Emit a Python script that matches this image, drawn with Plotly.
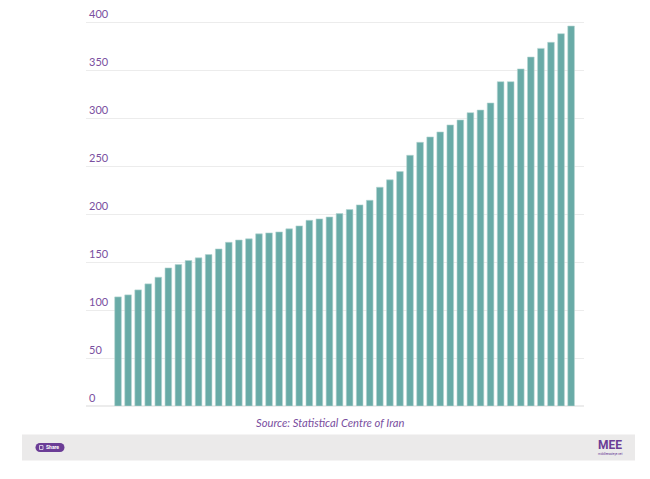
import plotly.graph_objects as go

# values, left to right
values = [113.7, 115.8, 121, 127.3, 134.2, 143.9, 147.4, 151.6, 154.4, 157.8,
          163.7, 170.6, 173, 174.2, 179.4, 180.4, 181.4, 184.6, 187.7, 193.5,
          195, 197, 200.5, 204.7, 209.6, 214.4, 228, 235.7, 244.3, 261.3,
          274.8, 280.4, 285.6, 292.9, 298.1, 305.7, 308.4, 315.8, 338, 338,
          351.3, 363.7, 372.7, 379, 388, 396]
positions = list(range(len(values)))
y_ticks = [0, 50, 100, 150, 200, 250, 300, 350, 400]
source_text = "Source: Statistical Centre of Iran"

PURPLE = "#7a4fa0"
DARK_PURPLE = "#6b3d96"
FONT = "Lato"
W, H = 650, 479
L, R, T, B = 86, 584, 3.3, 406.5


# picture pixels -> paper fractions, for the footer furniture
def px(x):
    return (x - L) / (R - L)


def py(y):
    return (B - y) / (B - T)


def note(text, x, y, family, size, color):
    fig.add_annotation(text=text, xref="paper", yref="paper", x=px(x), y=py(y),
                       xanchor="center", yanchor="middle", showarrow=False,
                       font=dict(family=family, size=size, color=color))


fig = go.Figure(go.Bar(
    x=positions,
    y=values,
    width=0.66,
    marker=dict(color="#69aba7", line=dict(color="#b5d5d2", width=0.6)),
))

# grey footer band and the share pill
fig.add_shape(type="rect", xref="paper", yref="paper", layer="below",
              x0=px(22), x1=px(635), y0=py(435), y1=py(461),
              fillcolor="#ebeaea", line_width=0)
fig.add_shape(type="rect", xref="paper", yref="paper",
              x0=px(40), x1=px(60), y0=py(443.5), y1=py(452.5),
              fillcolor=DARK_PURPLE, line_width=0)
fig.add_shape(type="circle", xref="paper", yref="paper",
              x0=px(35.5), x1=px(44.5), y0=py(443.5), y1=py(452.5),
              fillcolor=DARK_PURPLE, line_width=0)
fig.add_shape(type="circle", xref="paper", yref="paper",
              x0=px(55.5), x1=px(64.5), y0=py(443.5), y1=py(452.5),
              fillcolor=DARK_PURPLE, line_width=0)
fig.add_shape(type="rect", xref="paper", yref="paper",
              x0=px(39.5), x1=px(43), y0=py(446), y1=py(450),
              fillcolor="rgba(0,0,0,0)", line=dict(color="white", width=0.7))

note("<i>" + source_text + "</i>", 329.5, 423, FONT, 11.2, PURPLE)
note("<b>Share</b>", 52, 448, "Roboto", 5, "white")
note("<b>MEE</b>", 610, 446, "Roboto", 12, DARK_PURPLE)
note("middleeasteye.net", 610, 454.5, "Roboto", 3, DARK_PURPLE)

fig.update_layout(
    width=W,
    height=H,
    margin=dict(l=L, r=W - R, t=T, b=H - B, pad=0),
    paper_bgcolor="white",
    plot_bgcolor="white",
    showlegend=False,
    xaxis=dict(range=[-3.18, 46.28], visible=False, fixedrange=True),
    yaxis=dict(
        range=[0, 420],
        tickvals=y_ticks,
        ticklabelposition="inside top",
        tickfont=dict(family=FONT, size=11, color=PURPLE),
        gridcolor="#ececec",
        gridwidth=1,
        zeroline=True,
        zerolinecolor="#ececec",
        showline=False,
        ticks="",
    ),
)

# drop the browser's default body margin so the figure fills the window
fig.write_html("out.html", config={"displayModeBar": False},
               post_script="document.body.style.margin = '0';")
